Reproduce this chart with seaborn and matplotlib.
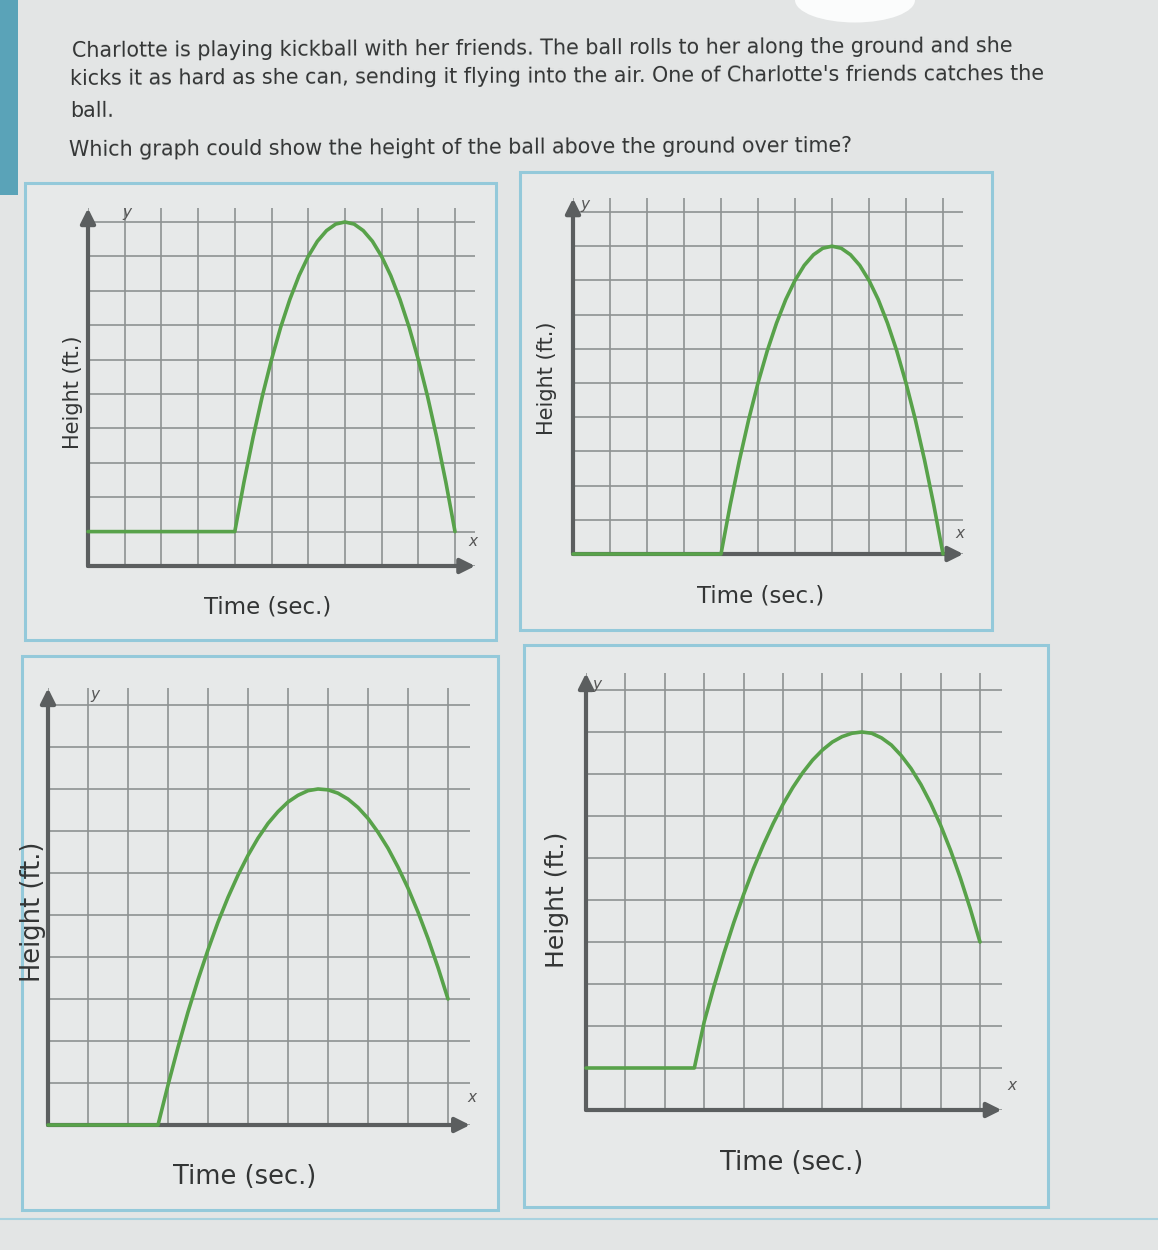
import numpy as np
import pandas as pd
import matplotlib
matplotlib.use("Agg")
import matplotlib.pyplot as plt
from matplotlib.patches import Rectangle, Ellipse
import seaborn as sns

# ---------------- data ----------------
intro_lines = [
    "Charlotte is playing kickball with her friends. The ball rolls to her along the ground and she",
    "kicks it as hard as she can, sending it flying into the air. One of Charlotte's friends catches the",
    "ball.",
]
question = "Which graph could show the height of the ball above the ground over time?"
x_label = "Time (sec.)"
y_label = "Height (ft.)"

a_time = [0, 4, 4.25, 4.5, 4.75, 5, 5.25, 5.5, 5.75, 6, 6.25, 6.5, 6.75, 7,
          7.25, 7.5, 7.75, 8, 8.25, 8.5, 8.75, 9, 9.25, 9.5, 9.75, 10]
a_height = [1, 1, 2.44, 3.75, 4.94, 6, 6.94, 7.75, 8.44, 9, 9.44, 9.75, 9.94, 10,
            9.94, 9.75, 9.44, 9, 8.44, 7.75, 6.94, 6, 4.94, 3.75, 2.44, 1]

b_time = [0, 4, 4.25, 4.5, 4.75, 5, 5.25, 5.5, 5.75, 6, 6.25, 6.5, 6.75, 7,
          7.25, 7.5, 7.75, 8, 8.25, 8.5, 8.75, 9, 9.25, 9.5, 9.75, 10]
b_height = [0, 0, 1.44, 2.75, 3.94, 5, 5.94, 6.75, 7.44, 8, 8.44, 8.75, 8.94, 9,
            8.94, 8.75, 8.44, 8, 7.44, 6.75, 5.94, 5, 3.94, 2.75, 1.44, 0]

c_time = [0, 2.75, 3, 3.25, 3.5, 3.75, 4, 4.25, 4.5, 4.75, 5, 5.25, 5.5, 5.75, 6, 6.25, 6.5,
          6.75, 7, 7.25, 7.5, 7.75, 8, 8.25, 8.5, 8.75, 9, 9.25, 9.5, 9.75, 10]
c_height = [0, 0, 0.95, 1.85, 2.69, 3.46, 4.17, 4.83, 5.42, 5.95, 6.42, 6.83, 7.18, 7.46, 7.69,
            7.85, 7.96, 8.0, 7.98, 7.9, 7.76, 7.56, 7.3, 6.97, 6.59, 6.14, 5.64, 5.07, 4.44,
            3.75, 3.0]

d_time = [0, 2.75, 3, 3.25, 3.5, 3.75, 4, 4.25, 4.5, 4.75, 5, 5.25, 5.5, 5.75, 6, 6.25, 6.5,
          6.75, 7, 7.25, 7.5, 7.75, 8, 8.25, 8.5, 8.75, 9, 9.25, 9.5, 9.75, 10]
d_height = [1, 1, 2.1, 2.95, 3.73, 4.46, 5.13, 5.75, 6.31, 6.82, 7.28, 7.68, 8.03, 8.33, 8.57,
            8.76, 8.89, 8.97, 9, 8.97, 8.86, 8.69, 8.44, 8.13, 7.75, 7.3, 6.78, 6.19, 5.53,
            4.8, 4.0]

grid_ticks = list(range(0, 11))

# ---------------- style ----------------
sns.set_theme(style="white")
plt.rcParams["font.family"] = ["DejaVu Sans"]

W, H = 1158, 1250
BG = "#e3e5e5"
TEXT = "#333535"
GRID = "#8e9292"
AXIS = "#5b5e5f"
GREEN = "#58a24a"
BORDER = "#94c9da"

fig = plt.figure(figsize=(W / 100, H / 100), dpi=100, facecolor=BG)


def fx(px):
    return px / W


def fy(py):
    return 1 - py / H


# photo decorations (behind everything)
fig.patches.append(Rectangle((0, fy(195)), fx(18), 195 / H, transform=fig.transFigure,
                             facecolor="#5aa3b8", edgecolor="none", zorder=-3))
fig.patches.append(Ellipse((fx(855), fy(0)), fx(120), 45 / H, transform=fig.transFigure,
                           facecolor="#fbfcfc", edgecolor="none", zorder=-3))
fig.lines.append(plt.Line2D([0, 1], [fy(1219), fy(1219)], transform=fig.transFigure,
                            color="#a9d2df", lw=1.5, zorder=-3))

# question text (slightly tilted like the photo)
text_specs = [
    (intro_lines[0], 542, 48.5, "center"),
    (intro_lines[1], 557, 76, "center"),
    (intro_lines[2], 70, 111, "left"),
    (question, 461, 148, "center"),
]
for s, px, py, ha in text_specs:
    fig.text(fx(px), fy(py), s, ha=ha, va="center", fontsize=14.9, color=TEXT,
             rotation=0.3, rotation_mode="anchor")

panels = [
    dict(t=a_time, h=a_height, box=(25, 183, 496, 640), left=88, bottom=566, cx=36.7, cy=34.4,
         xl=(268, 607), yl=(73, 392), fsx=16.5, fsy=15, ylab=(127, 213), xlab=(473, 541)),
    dict(t=b_time, h=b_height, box=(520, 172, 992, 630), left=573, bottom=554, cx=37.0, cy=34.2,
         xl=(761, 596), yl=(547, 378), fsx=16.5, fsy=15, ylab=(585, 205), xlab=(960, 534)),
    dict(t=c_time, h=c_height, box=(22, 656, 498, 1210), left=48, bottom=1125, cx=40.0, cy=42.0,
         xl=(245, 1177), yl=(33, 912), fsx=18.5, fsy=18.5, ylab=(95, 694), xlab=(472, 1098)),
    dict(t=d_time, h=d_height, box=(524, 645, 1048, 1207), left=586, bottom=1110, cx=39.4, cy=42.0,
         xl=(792, 1163), yl=(557, 900), fsx=18.5, fsy=18, ylab=(597, 685), xlab=(1012, 1085)),
]

XMAX, YMAX = 10.55, 10.4

for p in panels:
    x0, y0, x1, y1 = p["box"]
    fig.patches.append(Rectangle((fx(x0), fy(y1)), fx(x1 - x0), (y1 - y0) / H,
                                 transform=fig.transFigure, facecolor="#e7e9e9",
                                 edgecolor=BORDER, lw=2.2, zorder=-2))
    wpx = XMAX * p["cx"]
    hpx = YMAX * p["cy"]
    ax = fig.add_axes([fx(p["left"]), fy(p["bottom"]), fx(wpx), hpx / H])
    ax.set_facecolor("none")
    df = pd.DataFrame({"time": p["t"], "height": p["h"]})
    sns.lineplot(data=df, x="time", y="height", ax=ax, color=GREEN, linewidth=2.6,
                 sort=False, estimator=None, zorder=5)
    for ln in ax.lines:
        ln.set_clip_on(False)
        ln.set_solid_joinstyle("round")
    ax.set_xlim(0, XMAX)
    ax.set_ylim(0, YMAX)
    ax.set_xticks(grid_ticks)
    ax.set_yticks(grid_ticks)
    ax.tick_params(length=0, labelbottom=False, labelleft=False)
    ax.grid(True, color=GRID, lw=1.2)
    ax.set_axisbelow(True)
    for sp in ax.spines.values():
        sp.set_visible(False)
    ax.set_xlabel("")
    ax.set_ylabel("")
    ax.annotate("", xy=(XMAX, 0), xytext=(0, 0), annotation_clip=False,
                arrowprops=dict(arrowstyle="-|>", color=AXIS, lw=3, mutation_scale=22,
                                shrinkA=0, shrinkB=0), zorder=4)
    ax.annotate("", xy=(0, YMAX), xytext=(0, 0), annotation_clip=False,
                arrowprops=dict(arrowstyle="-|>", color=AXIS, lw=3, mutation_scale=22,
                                shrinkA=0, shrinkB=0), zorder=4)
    fig.text(fx(p["xl"][0]), fy(p["xl"][1]), x_label, ha="center", va="center",
             fontsize=p["fsx"], color=TEXT)
    fig.text(fx(p["yl"][0]), fy(p["yl"][1]), y_label, ha="center", va="center",
             fontsize=p["fsy"], color=TEXT, rotation=90)
    fig.text(fx(p["ylab"][0]), fy(p["ylab"][1]), "y", ha="center", va="center",
             fontsize=11, color="#555", style="italic")
    fig.text(fx(p["xlab"][0]), fy(p["xlab"][1]), "x", ha="center", va="center",
             fontsize=11, color="#555", style="italic")

fig.savefig("out.png", dpi=100, facecolor=BG)
